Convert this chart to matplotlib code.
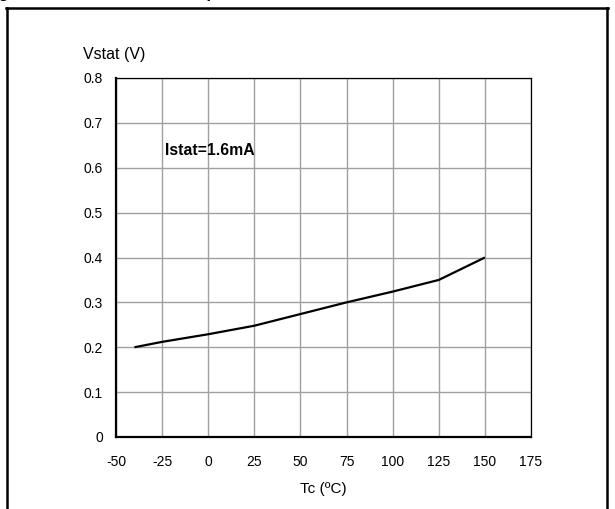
import matplotlib
matplotlib.use('Agg')
import matplotlib.pyplot as plt
from matplotlib.lines import Line2D

plt.rcParams['font.family'] = ['Liberation Sans', 'DejaVu Sans']
plt.rcParams['axes.unicode_minus'] = False

# data
tc = [-40, -25, 0, 25, 50, 75, 100, 125, 150]
vstat = [0.200, 0.212, 0.229, 0.248, 0.274, 0.300, 0.324, 0.350, 0.400]

xticks = [-50, -25, 0, 25, 50, 75, 100, 125, 150, 175]
yticks = [0, 0.1, 0.2, 0.3, 0.4, 0.5, 0.6, 0.7, 0.8]
ylabels = ['0', '0.1', '0.2', '0.3', '0.4', '0.5', '0.6', '0.7', '0.8']

W, H = 615, 509
fig = plt.figure(figsize=(W / 100, H / 100), dpi=100)
ax = fig.add_axes([116 / W, 72 / H, 415 / W, 359 / H])

ax.plot(tc, vstat, color='black', lw=1.6, solid_capstyle='butt')

ax.set_xlim(-50, 175)
ax.set_ylim(0, 0.8)
ax.set_xticks(xticks)
ax.set_yticks(yticks)
ax.set_yticklabels(ylabels)
ax.tick_params(length=0, labelsize=10)
ax.tick_params(axis='x', pad=13)
ax.tick_params(axis='y', pad=9.5)
ax.grid(True, color='#a0a0a0', lw=1.0)
ax.set_axisbelow(True)

for s in ['top', 'right']:
    ax.spines[s].set_linewidth(0.9)
for s in ['left', 'bottom']:
    ax.spines[s].set_linewidth(1.6)

ax.set_xlabel('Tc (ºC)', fontsize=11, labelpad=9)
fig.text(83 / W, 1 - 54 / H, 'Vstat (V)', fontsize=11.5, va='center', ha='left')
ax.text(-23.5, 0.638, 'Istat=1.6mA', fontsize=11.3, fontweight='bold', va='center', ha='left')

# outer frame of the datasheet figure
fig.add_artist(Line2D([7 / W, 7 / W], [0, 1 - 8 / H], color='black', lw=1.8, transform=fig.transFigure))
fig.add_artist(Line2D([607 / W, 607 / W], [0, 1 - 8 / H], color='black', lw=1.8, transform=fig.transFigure))
fig.add_artist(Line2D([6 / W, 608 / W], [1 - 8 / H, 1 - 8 / H], color='black', lw=1.8, transform=fig.transFigure))

# caption cut off at the top edge, only descenders show
fig.text(-16 / W, 1 + 1.5 / H, 'Figure 16. Vstat vs case temperature',
         fontsize=12, fontweight='bold', va='baseline', ha='left')

fig.savefig('out.png', dpi=100)
